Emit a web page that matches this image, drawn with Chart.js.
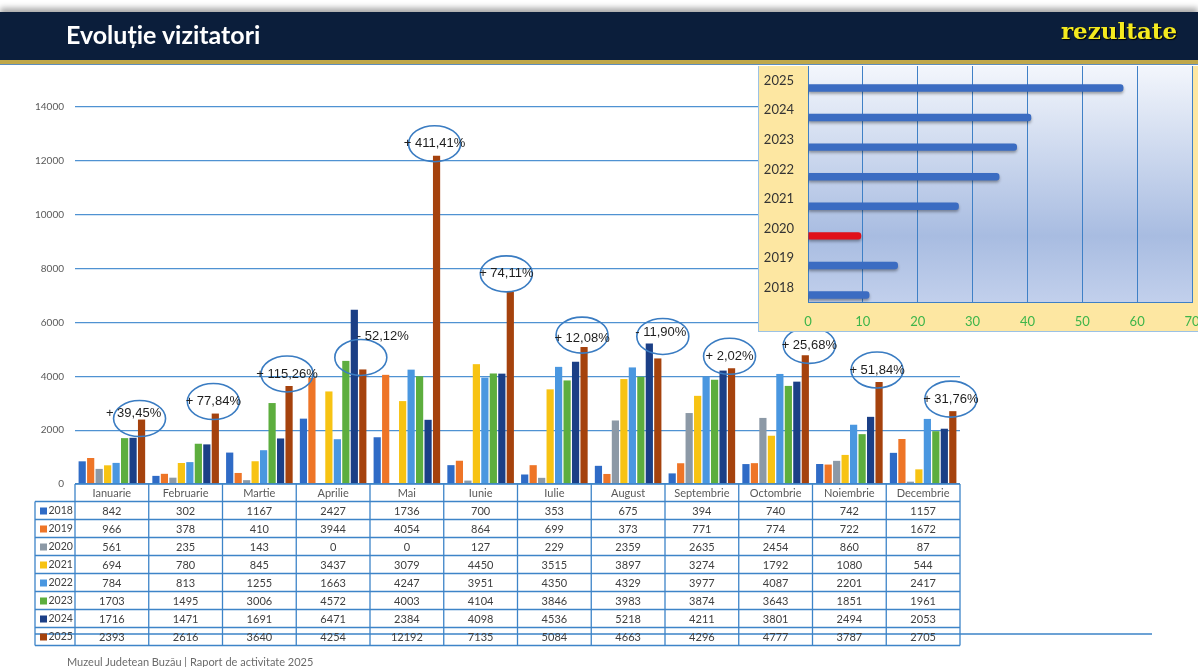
<!DOCTYPE html>
<html lang="ro">
<head>
<meta charset="utf-8">
<title>Evoluție vizitatori</title>
<script src="https://cdn.jsdelivr.net/npm/chart.js@4.4.1/dist/chart.umd.min.js"></script>
<style>
  html, body { margin: 0; padding: 0; background: #fff; overflow: hidden; }
  body { width: 1198px; height: 667px; position: relative; font-family: Lato, sans-serif; }
  #main { position: absolute; left: 0; top: 0; }
  .head { position: absolute; left: 0; top: 12px; width: 1198px; height: 48px; background: #0b1e3b; box-shadow: 0 -4px 6px rgba(0,0,0,.35); }
  .head h1 { margin: 0; position: absolute; left: 66px; top: 7px; font: 700 25px/1.2 Lato, sans-serif; color: #fff; }
  .head .tag { position: absolute; left: 1061px; top: 5px; font: 700 23px/1.2 "DejaVu Serif", serif; color: #f4ea1f; text-shadow: 1px 1px 1px #000; }
  .stripe { position: absolute; left: 0; top: 60px; width: 1198px; height: 4px; background: #bfa74a; border-bottom: 1px solid #5d8dbd; }
  #insetBox { position: absolute; left: 758px; top: 66px; width: 440px; height: 265px; background: #fde7a2; border-left: 1px solid #9cc2e5; border-bottom: 1px solid #9cc2e5; overflow: hidden; }
  #inset { position: absolute; left: 0; top: -8px; }
  .foot { position: absolute; left: 67px; top: 655px; font: 11px/14px Lato, sans-serif; color: #6b6b6b; }
</style>
</head>
<body>
<canvas id="main" width="1198" height="667"></canvas>
<div class="head">
  <h1>Evoluție vizitatori</h1>
  <div class="tag">rezultate</div>
</div>
<div class="stripe"></div>
<div id="insetBox"><canvas id="inset" width="452" height="273"></canvas></div>
<div class="foot">Muzeul Judetean Buzău | Raport de activitate 2025</div>

<script>
const months = ['Ianuarie', 'Februarie', 'Martie', 'Aprilie', 'Mai', 'Iunie', 'Iulie', 'August', 'Septembrie', 'Octombrie', 'Noiembrie', 'Decembrie'];
const years = ['2018', '2019', '2020', '2021', '2022', '2023', '2024', '2025'];

const v2018 = [842, 302, 1167, 2427, 1736, 700, 353, 675, 394, 740, 742, 1157];
const v2019 = [966, 378, 410, 3944, 4054, 864, 699, 373, 771, 774, 722, 1672];
const v2020 = [561, 235, 143, 0, 0, 127, 229, 2359, 2635, 2454, 860, 87];
const v2021 = [694, 780, 845, 3437, 3079, 4450, 3515, 3897, 3274, 1792, 1080, 544];
const v2022 = [784, 813, 1255, 1663, 4247, 3951, 4350, 4329, 3977, 4087, 2201, 2417];
const v2023 = [1703, 1495, 3006, 4572, 4003, 4104, 3846, 3983, 3874, 3643, 1851, 1961];
const v2024 = [1716, 1471, 1691, 6471, 2384, 4098, 4536, 5218, 4211, 3801, 2494, 2053];
const v2025 = [2393, 2616, 3640, 4254, 12192, 7135, 5084, 4663, 4296, 4777, 3787, 2705];

// variatia 2025 fata de 2024, cum apare in balon
const growth = ['+ 39,45%', '+ 77,84%', '+ 115,26%', '- 52,12%', '+ 411,41%', '+ 74,11%', '+ 12,08%', '- 11,90%', '+ 2,02%', '+ 25,68%', '+ 51,84%', '+ 31,76%'];

// graficul mic: total anual, mii de vizitatori
const yearTotals = [11.2, 16.4, 9.7, 27.5, 34.9, 38.1, 40.7, 57.5];

const series = [v2018, v2019, v2020, v2021, v2022, v2023, v2024, v2025];
const yearColors = ['#2f6bc6', '#ee7527', '#8c99a6', '#f7c313', '#4a97e0', '#5dae3e', '#1b3f86', '#a5420d'];

Chart.defaults.font.family = 'Lato, sans-serif';

// unde se abate balonul de la pozitia obisnuita
const noteShift = { 0: [-2, -1], 5: [-4, -18], 7: [5, -22], 9: [4, -10] };
const textShift = { 0: [-6, -5], 3: [22, -21], 6: [0, 3], 7: [-2, -4] };

const notePlugin = {
    id: 'growthNotes',
    afterDatasetsDraw(chart) {
        const ctx = chart.ctx;
        const meta = chart.getDatasetMeta(years.length - 1);
        ctx.save();
        ctx.font = '13px "Liberation Sans", Arial, sans-serif';
        ctx.textAlign = 'center';
        ctx.textBaseline = 'middle';
        meta.data.forEach((bar, i) => {
            const [dx, dy] = noteShift[i] || [-2, -12];
            const cx = bar.x + dx, cy = bar.y + dy;
            ctx.beginPath();
            ctx.ellipse(cx, cy, 26, 18, 0, 0, Math.PI * 2);
            ctx.strokeStyle = '#3a7cc2';
            ctx.lineWidth = 1.6;
            ctx.stroke();
            const [tx, ty] = textShift[i] || [0, 0];
            ctx.fillStyle = '#1e1e1e';
            ctx.fillText(growth[i], cx + tx, cy + ty);
        });
        ctx.restore();
    }
};

const tablePlugin = {
    id: 'dataTable',
    afterDraw(chart) {
        const { ctx, scales: { x, y } } = chart;
        const half = (x.getPixelForValue(1) - x.getPixelForValue(0)) / 2;
        const left = x.getPixelForValue(0) - half;
        const right = x.getPixelForValue(months.length - 1) + half;
        const top = y.getPixelForValue(0);
        const headH = 17.5, rowH = 18, legendL = 35;
        const bottom = top + headH + rowH * years.length;

        ctx.save();
        ctx.strokeStyle = '#3d84c8';
        ctx.lineWidth = 1.3;
        ctx.beginPath();
        ctx.moveTo(left, top);
        ctx.lineTo(right, top);
        for (let r = 0; r <= years.length; r++) {
            const yy = top + headH + r * rowH;
            ctx.moveTo(legendL, yy);
            ctx.lineTo(right, yy);
        }
        ctx.moveTo(legendL, top + headH);
        ctx.lineTo(legendL, bottom);
        for (let c = 0; c <= months.length; c++) {
            const xx = left + c * 2 * half;
            ctx.moveTo(xx, top);
            ctx.lineTo(xx, bottom);
        }
        // linia ratacita peste ultimul rand
        ctx.moveTo(legendL, bottom - rowH + 6.5);
        ctx.lineTo(1152, bottom - rowH + 6.5);
        ctx.stroke();

        ctx.textAlign = 'center';
        ctx.textBaseline = 'middle';
        ctx.font = '11px Lato, sans-serif';
        ctx.fillStyle = '#595959';
        months.forEach((m, c) => ctx.fillText(m, x.getPixelForValue(c), top + headH / 2 + 1));

        years.forEach((yr, r) => {
            const cy = top + headH + r * rowH + rowH / 2 + 0.5;
            ctx.font = '11px Lato, sans-serif';
            ctx.fillStyle = '#404040';
            ctx.textAlign = 'center';
            series[r].forEach((v, c) => ctx.fillText(String(v), x.getPixelForValue(c), cy));
            ctx.fillStyle = yearColors[r];
            ctx.fillRect(legendL + 5, cy - 3.5, 7, 7);
            ctx.fillStyle = '#404040';
            ctx.textAlign = 'left';
            ctx.font = '10.5px Lato, sans-serif';
            ctx.fillText(yr, legendL + 13.5, cy);
        });
        ctx.restore();
    }
};

new Chart(document.getElementById('main'), {
    type: 'bar',
    data: {
        labels: months,
        datasets: years.map((yr, k) => ({
            label: yr,
            data: series[k],
            backgroundColor: yearColors[k],
            borderWidth: 0,
        })),
    },
    options: {
        responsive: false,
        animation: false,
        layout: { padding: { top: 107, right: 238, bottom: 183, left: 0 } },
        datasets: { bar: { categoryPercentage: 0.92, barPercentage: 0.85 } },
        plugins: { legend: { display: false }, tooltip: { enabled: false } },
        scales: {
            x: { display: false },
            y: {
                min: 0,
                max: 14000,
                ticks: { stepSize: 2000, color: '#595959', font: { size: 10 }, padding: 11, callback: v => String(v) },
                grid: { color: '#4f92d2', lineWidth: 1.2, drawTicks: false },
                border: { display: false },
                afterFit(s) { s.width = 75; },
            },
        },
    },
    plugins: [notePlugin, tablePlugin],
});

const insetBack = {
    id: 'insetBack',
    beforeDraw(chart) {
        const { ctx, chartArea: a } = chart;
        const g = ctx.createLinearGradient(0, a.top, 0, a.bottom);
        g.addColorStop(0, '#f3f6fc');
        g.addColorStop(0.72, '#a8bce1');
        g.addColorStop(1, '#c2d0ec');
        ctx.save();
        ctx.fillStyle = g;
        ctx.fillRect(a.left, a.top, a.right - a.left, a.bottom - a.top);
        ctx.restore();
    },
    beforeDatasetsDraw(chart) {
        const ctx = chart.ctx;
        ctx.save();
        ctx.shadowColor = 'rgba(0,0,0,0.35)';
        ctx.shadowBlur = 3;
        ctx.shadowOffsetY = 2;
    },
    afterDatasetsDraw(chart) {
        chart.ctx.restore();
    }
};

const insetYears = years.slice().reverse();
new Chart(document.getElementById('inset'), {
    type: 'bar',
    data: {
        labels: insetYears,
        datasets: [
            { data: insetYears.map(() => null) },
            {
                data: yearTotals.slice().reverse(),
                backgroundColor: insetYears.map(yr => yr === '2020' ? '#e0101a' : '#3b6cc2'),
                borderRadius: 3,
                borderSkipped: 'start',
            },
        ],
    },
    options: {
        indexAxis: 'y',
        responsive: false,
        animation: false,
        layout: { padding: { top: 2, right: 19, bottom: 1, left: 0 } },
        datasets: { bar: { categoryPercentage: 1, barPercentage: 0.5 } },
        plugins: { legend: { display: false }, tooltip: { enabled: false } },
        scales: {
            x: {
                min: 0,
                max: 70,
                ticks: { stepSize: 10, color: '#3db54a', font: { size: 13 }, padding: 0 },
                grid: { color: '#3f80c6', drawTicks: true, tickLength: 12, tickColor: 'rgba(0,0,0,0)' },
                border: { color: '#3f80c6' },
            },
            y: {
                ticks: { color: '#333', font: { size: 13 }, padding: 0 },
                grid: { display: false, drawTicks: true, tickLength: 14 },
                border: { display: false },
                afterFit(s) { s.width = 49; },
            },
        },
    },
    plugins: [insetBack],
});
</script>
</body>
</html>
